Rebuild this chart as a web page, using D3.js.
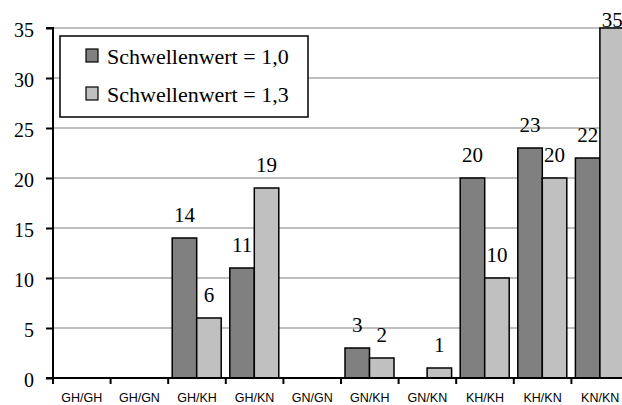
<!DOCTYPE html>
<html>
<head>
<meta charset="utf-8">
<script src="https://cdn.jsdelivr.net/npm/d3@7"></script>
<style>
  html, body { margin: 0; padding: 0; background: #fff; }
  svg { display: block; }
</style>
</head>
<body>
<svg id="chart" width="622" height="405"></svg>
<script>
const categories = ["GH/GH", "GH/GN", "GH/KH", "GH/KN", "GN/GN", "GN/KH", "GN/KN", "KH/KH", "KH/KN", "KN/KN"];
const seriesNames = ["Schwellenwert = 1,0", "Schwellenwert = 1,3"];
const values10 = [0, 0, 14, 11, 0, 3, 0, 20, 23, 22];
const values13 = [0, 0, 6, 19, 0, 2, 1, 10, 20, 35];
const yTicks = [0, 5, 10, 15, 20, 25, 30, 35];
const colors = ["#808080", "#c0c0c0"];

(function () {
const SERIF = "'Liberation Serif', 'Times New Roman', serif";
const SANS = "'Liberation Sans', Arial, sans-serif";
const svg = d3.select("#chart");
const W = 622;
const plotLeft = 53, plotBottom = 378, plotTop = 28, catW = 57.6;
const plotRight = plotLeft + catW * categories.length;

const x = d3.scaleBand().domain(categories).range([plotLeft, plotRight]).paddingInner(0).paddingOuter(0);
const y = d3.scaleLinear().domain([0, 35]).range([plotBottom, plotTop]);
const xs = d3.scaleBand().domain([0, 1]).range([4, 53]).padding(0);

// gridlines
svg.append("g").selectAll("line").data(yTicks.filter(d => d > 0)).join("line")
  .attr("x1", plotLeft).attr("x2", W)
  .attr("y1", d => y(d)).attr("y2", d => y(d))
  .attr("stroke", "#808080").attr("stroke-width", 1.2);

// bars
const series = [values10, values13];
const barData = [];
series.forEach((vals, s) => vals.forEach((v, i) => barData.push({cat: categories[i], s, v})));

svg.append("g").selectAll("rect").data(barData.filter(d => d.v > 0)).join("rect")
  .attr("x", d => x(d.cat) + xs(d.s))
  .attr("width", xs.bandwidth())
  .attr("y", d => y(d.v))
  .attr("height", d => y(0) - y(d.v))
  .attr("fill", d => colors[d.s])
  .attr("stroke", "#000").attr("stroke-width", 1.5);

// value labels
svg.append("g").selectAll("text").data(barData.filter(d => d.v > 0)).join("text")
  .attr("x", d => x(d.cat) + xs(d.s) + xs.bandwidth() / 2)
  .attr("y", d => Math.max(y(d.v) - 16, 27))
  .attr("text-anchor", "middle")
  .style("font-family", SERIF)
  .attr("font-size", 21)
  .attr("fill", "#000")
  .text(d => d.v);

// y axis
const yAxis = d3.axisLeft(y).tickValues(yTicks).tickSize(7).tickPadding(12).tickFormat(d3.format("d"));
const gy = svg.append("g").attr("transform", `translate(${plotLeft},0)`).call(yAxis);
gy.attr("font-family", null).attr("font-size", null);
gy.select(".domain").attr("stroke", "#000").attr("stroke-width", 2).attr("d", `M-7,${plotTop}H0V${plotBottom}H-7`);
gy.selectAll(".tick line").attr("stroke", "#000").attr("stroke-width", 2);
gy.selectAll(".tick text")
  .style("font-family", SERIF)
  .attr("font-size", 20).attr("fill", "#000").attr("dy", "0.42em");

// x axis
const xAxis = d3.axisBottom(x).tickSize(0).tickPadding(0);
const gx = svg.append("g").attr("transform", `translate(0,${plotBottom})`).call(xAxis);
gx.attr("font-family", null).attr("font-size", null);
gx.select(".domain").attr("stroke", "#000").attr("stroke-width", 2).attr("d", `M${plotLeft},0H${plotRight}`);
gx.selectAll(".tick text")
  .style("font-family", SANS)
  .attr("font-size", 12.5).attr("fill", "#000")
  .attr("y", 24).attr("dy", 0);
// category boundary ticks
const bounds = d3.range(categories.length + 1).map(i => i === categories.length ? plotRight : x(categories[i]));
svg.append("g").selectAll("line").data(bounds).join("line")
  .attr("x1", d => d).attr("x2", d => d)
  .attr("y1", plotBottom).attr("y2", plotBottom + 6)
  .attr("stroke", "#000").attr("stroke-width", 2);

// legend
const lg = svg.append("g");
lg.append("rect").attr("x", 60).attr("y", 36).attr("width", 248).attr("height", 81)
  .attr("fill", "#fff").attr("stroke", "#000").attr("stroke-width", 1.5);
seriesNames.forEach((name, i) => {
  const yy = 49 + i * 38;
  lg.append("rect").attr("x", 86).attr("y", yy).attr("width", 12).attr("height", 13)
    .attr("fill", colors[i]).attr("stroke", "#000").attr("stroke-width", 1.2);
  lg.append("text").attr("x", 107).attr("y", yy + 15)
    .style("font-family", SERIF)
    .attr("font-size", 22).attr("fill", "#000").text(name);
});
})();
</script>
</body>
</html>
